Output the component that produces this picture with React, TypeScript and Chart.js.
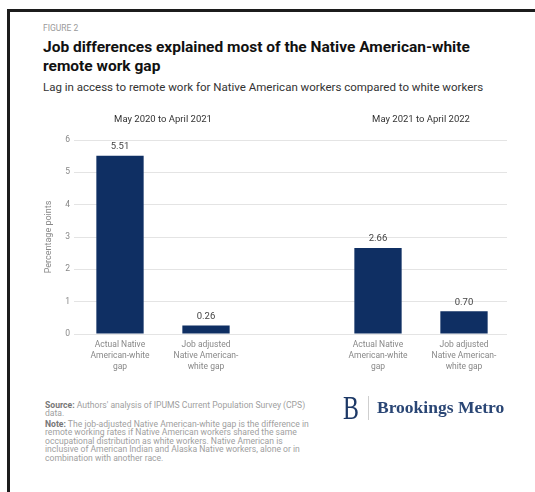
import React, { useEffect, useRef } from "react";
import { Chart, registerables } from "chart.js";

Chart.register(...registerables);

const categories: (string | string[])[] = [
  ["Actual Native", "American-white", "gap"],
  ["Job adjusted", "Native American-", "white gap"],
  "",
  ["Actual Native", "American-white", "gap"],
  ["Job adjusted", "Native American-", "white gap"],
];
const values: (number | null)[] = [5.51, 0.26, null, 2.66, 0.7];
const valueLabels: string[] = ["5.51", "0.26", "", "2.66", "0.70"];
const groupLabels: string[] = ["May 2020 to April 2021", "May 2021 to April 2022"];
const groupMembers: number[][] = [
  [0, 1],
  [3, 4],
];
const yMin = 0;
const yMax = 6;
const yStep = 1;

const footerLines: [string, string][] = [
  ["Source:", " Authors' analysis of IPUMS Current Population Survey (CPS)"],
  ["", "data."],
  ["Note:", " The job-adjusted Native American-white gap is the difference in"],
  ["", "remote working rates if Native American workers shared the same"],
  ["", "occupational distribution as white workers. Native American is"],
  ["", "inclusive of American Indian and Alaska Native workers, alone or in"],
  ["", "combination with another race."],
];

const FONT = "Roboto, 'Noto Sans', sans-serif";
const NAVY = "#0f2f63";

const labelPlugin = {
  id: "labels",
  afterDatasetsDraw(chart: any) {
    const ctx = chart.ctx;
    const meta = chart.getDatasetMeta(0);
    ctx.save();
    ctx.font = `9.5px ${FONT}`;
    ctx.fillStyle = "#444";
    ctx.textAlign = "center";
    ctx.textBaseline = "middle";
    meta.data.forEach((bar: any, i: number) => {
      if (values[i] == null) return;
      ctx.fillText(valueLabels[i], bar.x, bar.y - 9);
    });
    const xs = chart.scales.x;
    ctx.fillStyle = "#333";
    groupLabels.forEach((g, gi) => {
      const idx = groupMembers[gi];
      const mid = (xs.getPixelForValue(idx[0]) + xs.getPixelForValue(idx[idx.length - 1])) / 2;
      ctx.fillText(g, mid, 20);
    });
    ctx.restore();
  },
};

function ChartCanvas() {
  const ref = useRef<HTMLCanvasElement | null>(null);
  useEffect(() => {
    if (!ref.current) return;
    const chart = new Chart(ref.current, {
      type: "bar",
      data: {
        labels: categories as any,
        datasets: [
          {
            data: values as any,
            backgroundColor: NAVY,
            borderWidth: 0,
            barPercentage: 0.55,
            categoryPercentage: 1,
          },
        ],
      },
      options: {
        responsive: false,
        animation: false,
        devicePixelRatio: 1,
        layout: { padding: { top: 40, right: 28, bottom: 0, left: 0 } },
        plugins: { legend: { display: false }, tooltip: { enabled: false }, title: { display: false } },
        scales: {
          x: {
            grid: { display: false, drawTicks: false },
            border: { display: false },
            ticks: {
              color: "#888",
              font: { family: FONT, size: 8.5, lineHeight: 1.3 },
              padding: 5,
              maxRotation: 0,
              autoSkip: false,
            },
            afterFit: (s: any) => {
              s.height = 56;
            },
          },
          y: {
            min: yMin,
            max: yMax,
            border: { display: false },
            grid: { color: "#e4e4e4", lineWidth: 1, tickLength: 3, drawTicks: true },
            ticks: {
              stepSize: yStep,
              color: "#888",
              padding: 4,
              font: { family: FONT, size: 8.5 },
            },
            title: {
              display: true,
              text: "Percentage points",
              color: "#888",
              font: { family: FONT, size: 9 },
              padding: { top: 43, bottom: 0 },
            },
            afterFit: (s: any) => {
              s.width = 77;
            },
          },
        },
      },
      plugins: [labelPlugin],
    });
    return () => chart.destroy();
  }, []);
  return (
    <canvas
      ref={ref}
      width={535}
      height={290}
      style={{ position: "absolute", left: 0, top: 100, width: 535, height: 290 }}
    />
  );
}

function T(props: { x: number; y: number; size: number; children: any; style?: any }) {
  const lh = props.size * 1.25;
  return (
    <div
      style={{
        position: "absolute",
        left: props.x,
        top: props.y - lh / 2,
        fontSize: props.size,
        lineHeight: `${lh}px`,
        whiteSpace: "nowrap",
        fontFamily: FONT,
        ...props.style,
      }}
    >
      {props.children}
    </div>
  );
}

export default function App() {
  const footerY = [405, 413.5, 424, 432.5, 441, 449.5, 458];
  return (
    <div
      style={{
        position: "fixed",
        left: 0,
        top: 0,
        width: 535,
        height: 492,
        background: "#fff",
        overflow: "hidden",
      }}
    >
      <div
        style={{
          position: "absolute",
          left: 7,
          top: 9,
          right: -10,
          bottom: -10,
          borderTop: "3px solid #1c1c1c",
          borderLeft: "3px solid #1c1c1c",
        }}
      />
      <T x={43} y={28} size={8.5} style={{ color: "#9a9a9a" }}>
        FIGURE 2
      </T>
      <T x={43} y={48} size={15.5} style={{ color: "#111", fontWeight: 700 }}>
        Job differences explained most of the Native American-white
      </T>
      <T x={43} y={67} size={15.5} style={{ color: "#111", fontWeight: 700 }}>
        remote work gap
      </T>
      <T x={43} y={87} size={11.5} style={{ color: "#333" }}>
        Lag in access to remote work for Native American workers compared to white workers
      </T>
      <ChartCanvas />
      {footerLines.map((l, i) => (
        <T key={i} x={45} y={footerY[i]} size={8.6} style={{ color: "#a0a0a0" }}>
          {l[0] ? <b style={{ color: "#777" }}>{l[0]}</b> : null}
          {l[1]}
        </T>
      ))}
      <div
        style={{
          position: "absolute",
          left: 343,
          top: 391,
          fontFamily: "'Liberation Serif', serif",
          fontSize: 34,
          lineHeight: "34px",
          color: "#1c3866",
          transform: "scaleX(0.7)",
          transformOrigin: "left",
        }}
      >
        B
      </div>
      <div style={{ position: "absolute", left: 368, top: 396, width: 1, height: 24, background: "#cfcfcf" }} />
      <div
        style={{
          position: "absolute",
          left: 377,
          top: 397,
          fontFamily: "'Liberation Serif', serif",
          fontWeight: 700,
          fontSize: 17.5,
          lineHeight: "20px",
          color: "#2a4675",
          whiteSpace: "nowrap",
        }}
      >
        Brookings Metro
      </div>
    </div>
  );
}
